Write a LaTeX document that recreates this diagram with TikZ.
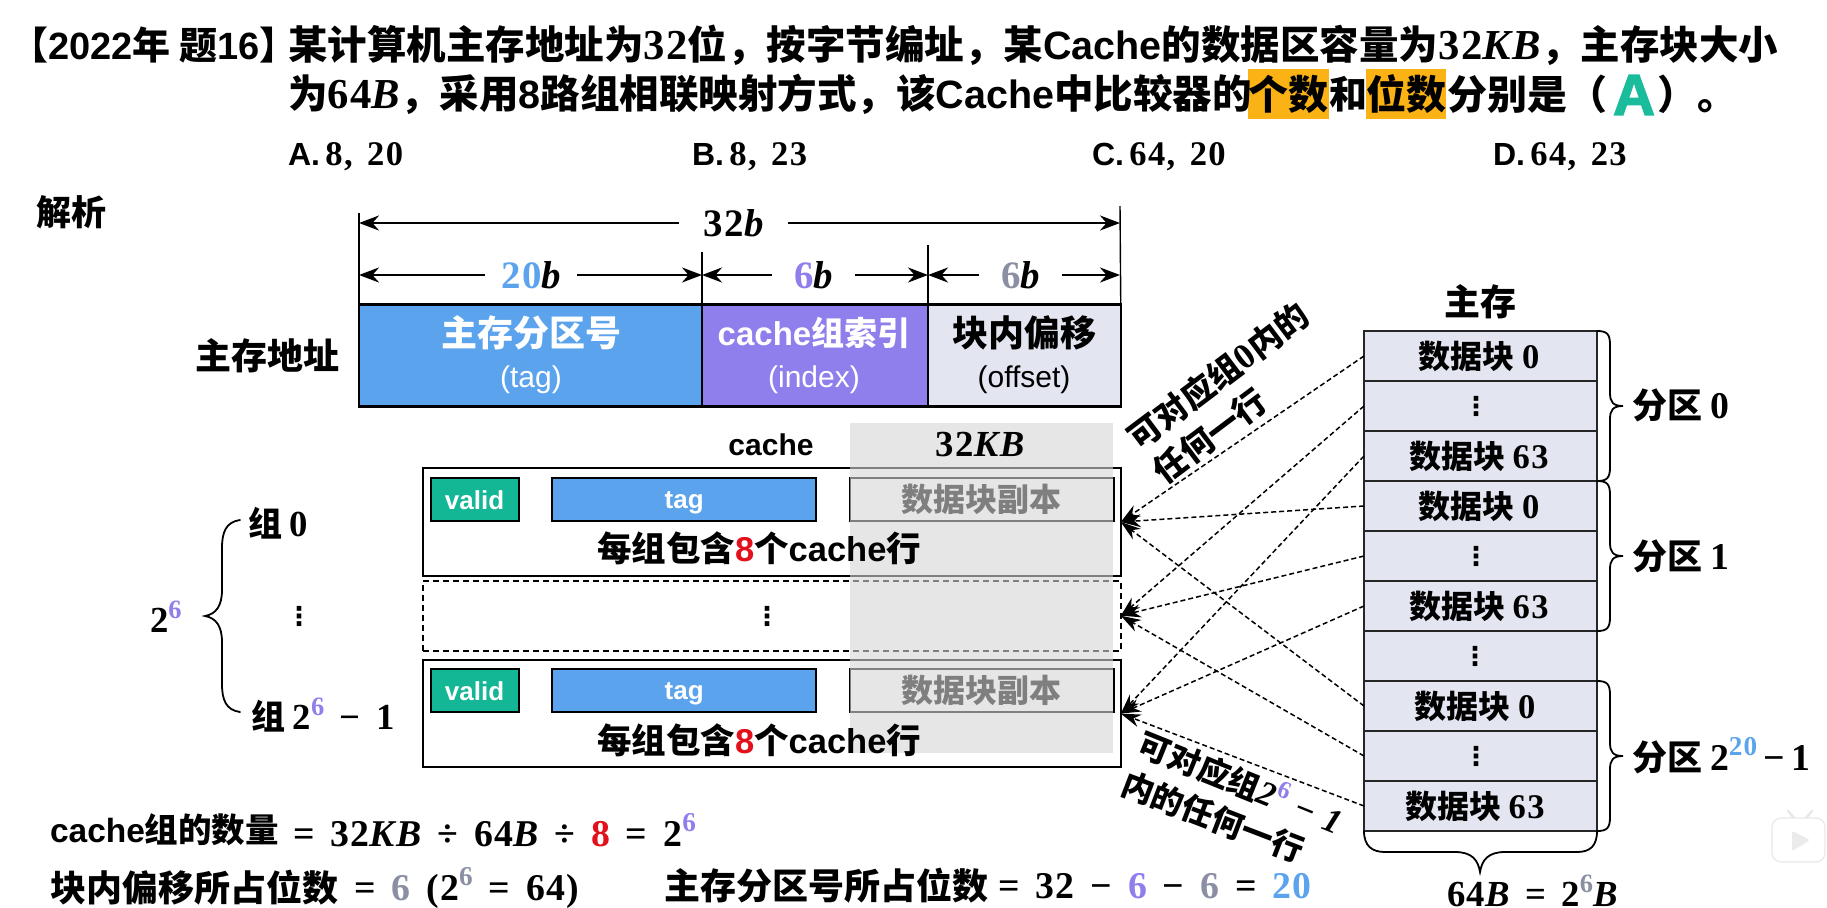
\documentclass[tikz,border=0pt]{standalone}
\usepackage{fontspec}
\usetikzlibrary{arrows.meta,calc}
\setmainfont{Noto Sans CJK SC}
\newfontfamily\arialf{Liberation Sans}
\newfontfamily\ansf{Liberation Sans}[BoldFeatures={FakeBold=2.5}]
\newfontfamily\seriff{Liberation Serif}[Scale=1.08,LetterSpace=4]
\newfontfamily\dejavu{DejaVu Sans}
\newcommand\La[1]{{\arialf\bfseries #1}}
\newcommand\Mn[1]{{\seriff\bfseries #1}}
\newcommand\Mi[1]{{\seriff\bfseries\itshape #1}}
\newcommand\Ms{\hspace{.3em}}
\newcommand\Ml{\hspace{.42em}}
\newcommand\Up[2]{\raisebox{.42em}{\scalebox{.72}{\textcolor{#1}{\seriff\bfseries #2}}}}
\definecolor{cblue}{HTML}{5BA3EC}
\definecolor{cpur}{HTML}{8F7FEC}
\definecolor{clight}{HTML}{E3E5F0}
\definecolor{cgrey}{HTML}{8A8FA3}
\definecolor{cred}{HTML}{E3101C}
\definecolor{cteal}{HTML}{14B795}
\definecolor{cteal2}{HTML}{1ABC9C}
\definecolor{cora}{HTML}{FBB215}
\definecolor{covl}{HTML}{D5D5D5}
\tikzset{
  every node/.style={inner sep=0pt,outer sep=0pt},
  txt/.style={font=\bfseries\fontsize{#1}{#1}\selectfont},
  dim/.style={line width=2.6pt,{Stealth[length=20pt,width=15pt]}-{Stealth[length=20pt,width=15pt]}},
  tick/.style={line width=1.4pt},
  addr/.style={draw=black,line width=2.4pt,minimum height=102pt},
  cacherow/.style={draw=black,line width=2pt,minimum width=698pt},
  inner/.style={draw=black,line width=2pt,minimum height=43pt},
  memrow/.style={draw=black!85,fill=clight,line width=1.8pt,minimum width=233pt,minimum height=50pt},
  link/.style={line width=1.5pt,dash pattern=on 5pt off 3pt,-{Stealth[length=20pt,width=13pt]}},
  brace/.style={line width=1.8pt,line cap=round},
  pics/rbrace/.style={code={
    \draw[brace] (0,0) .. controls (10,0) and (13,3) .. (13,14) -- (13,62)
       .. controls (13,71) and (16,75) .. (26,75)
       .. controls (16,75) and (13,79) .. (13,88) -- (13,136)
       .. controls (13,147) and (10,150) .. (0,150);
  }}
}
\begin{document}
\begin{tikzpicture}[x=1pt,y=-1pt]
\useasboundingbox (0,0) rectangle (1827,907);
% question
\fill[cora] (1248,69) rectangle (1329,119);
\fill[cora] (1366,69) rectangle (1446,119);
\node[txt=38,anchor=west] (qh) at (10,45) {【\La{2022}年 题\La{16}】};
\node[txt=39.5,anchor=west] (q1) at (288,45) {某计算机主存地址为\Mn{32}位，按字节编址，某\La{Cache}的数据区容量为\Mn{32}\Mi{KB}，主存块大小};
\node[txt=39.5,anchor=west] (q2a) at (288,94) {为\Mn{64}\Mi{B}，采用\La{8}路组相联映射方式，该\La{Cache}中比较器的};
\node[txt=40,anchor=west] (q2b) at (1248,94) {个数};
\node[txt=38,anchor=west] (q2c) at (1329,94) {和};
\node[txt=40,anchor=west] (q2d) at (1366,94) {位数};
\node[txt=40,anchor=west] (q2e) at (1447,94) {分别是（};
\node[anchor=center,font=\ansf\bfseries\fontsize{58}{58}\selectfont,text=cteal2] (ans) at (1634,95) {A};
\node[txt=40,anchor=west] (q2f) at (1657,94) {）。};
\node[txt=32,anchor=west] (oa) at (288,157) {\La{A.}\,\Mn{8,\Ml 20}};
\node[txt=32,anchor=west] (ob) at (692,157) {\La{B.}\,\Mn{8,\Ml 23}};
\node[txt=32,anchor=west] (oc) at (1092,157) {\La{C.}\,\Mn{64,\Ml 20}};
\node[txt=32,anchor=west] (od) at (1493,157) {\La{D.}\,\Mn{64,\Ml 23}};
\node[txt=35,anchor=west] (jx) at (36,212) {解析};
% address
\node[addr,fill=cblue,minimum width=343pt] (atag) at (530.5,355.5) {};
\node[addr,fill=cpur,minimum width=226pt] (aidx) at (815,355.5) {};
\node[addr,fill=clight,minimum width=192.5pt] (aoff) at (1024.5,355.5) {};
\node[txt=36,text=white] (t1) at (531,333) {主存分区号};
\node[text=white,font=\arialf\fontsize{30}{30}\selectfont] (t2) at (531,380) {(tag)};
\node[txt=33,text=white] (t3) at (814,333) {\La{cache}组索引};
\node[text=white,font=\arialf\fontsize{30}{30}\selectfont] (t4) at (814,380) {(index)};
\node[txt=36] (t5) at (1024,333) {块内偏移};
\node[font=\arialf\fontsize{30}{30}\selectfont] (t6) at (1024,380) {(offset)};
\node[txt=36] (t7) at (267,356) {主存地址};
% dimension ticks and arrows
\coordinate (d0t) at (359,213); \coordinate (d1t) at (702,252); \coordinate (d2t) at (928,245); \coordinate (d3t) at (1120,206);
\draw[tick] (d0t) -- (atag.north west);
\draw[tick] (d1t) -- (atag.north east);
\draw[tick] (d2t) -- (aidx.north east);
\draw[tick] (d3t) -- (aoff.north east);
\coordinate (a0) at (359,223); \coordinate (a3) at (1120,223);
\coordinate (b0) at (359,275); \coordinate (b1) at (702,275); \coordinate (b2) at (928,275); \coordinate (b3) at (1120,275);
\draw[dim] (a0) -- (a3);
\draw[dim] (b0) -- (b1);
\draw[dim] (b1) -- (b2);
\draw[dim] (b2) -- (b3);
\node[txt=36,fill=white,minimum width=109pt,minimum height=44pt] (l32) at (733.5,223) {\Mn{32}\Mi{b}};
\node[txt=36,fill=white,minimum width=92pt,minimum height=44pt] (l20) at (531,275) {\textcolor{cblue}{\Mn{20}}\Mi{b}};
\node[txt=36,fill=white,minimum width=83pt,minimum height=44pt] (l6a) at (813.5,275) {\textcolor{cpur}{\Mn{6}}\Mi{b}};
\node[txt=36,fill=white,minimum width=83pt,minimum height=44pt] (l6b) at (1020.5,275) {\textcolor{cgrey}{\Mn{6}}\Mi{b}};
% cache
\node[cacherow,minimum height=108pt] (r1) at (771.8,522) {};
\node[cacherow,minimum height=70pt,dash pattern=on 6pt off 4pt] (r2) at (771.8,615.7) {};
\node[cacherow,minimum height=107pt] (r3) at (771.8,713.6) {};
\foreach \n/\y in {1/499.5,3/690.5}{
  \node[inner,fill=cteal,minimum width=88pt] (v\n) at (474.6,\y) {};
  \node[inner,fill=cblue,minimum width=264pt] (g\n) at (684.2,\y) {};
  \node[inner,minimum width=264pt] (d\n) at (981.8,\y) {};
  \node[font=\arialf\bfseries\fontsize{26}{26}\selectfont,text=white] (vt\n) at (474.6,\y+1) {valid};
  \node[font=\arialf\bfseries\fontsize{26}{26}\selectfont,text=white] (gt\n) at (684.2,\y+3) {tag};
  \node[txt=32] (dt\n) at (981.8,\y) {数据块副本};
}
\fill[covl,fill opacity=.6] (850,423) rectangle (1113,753);
\node[font=\arialf\bfseries\fontsize{30}{30}\selectfont] (cl) at (771,445) {cache};
\node[txt=34] (ks) at (980,445) {\Mn{32}\Mi{KB}};
\node[txt=34.5] (e1) at (759,548) {每组包含\textcolor{cred}{\La{8}}个\La{cache}行};
\node[txt=34.5] (e3) at (759,740) {每组包含\textcolor{cred}{\La{8}}个\La{cache}行};
\node[font=\dejavu\bfseries\fontsize{26}{26}\selectfont] (rd) at (767,616) {⋮};
% left brace
\node[txt=34,anchor=west] (z0) at (248,523) {组 \Mn{0}};
\node[font=\dejavu\bfseries\fontsize{26}{26}\selectfont] (zd) at (299,616) {⋮};
\node[txt=34,anchor=west] (z1) at (251,715) {组 \Mn{2}\Up{cpur}{6}\Mn{\Ml−\Ml 1}};
\node[txt=34,anchor=west] (z2) at (150,617) {\Mn{2}\Up{cpur}{6}};
\coordinate (lb1) at (240,520); \coordinate (lb2) at (205,616); \coordinate (lb3) at (240,712);
\draw[brace] (lb1) .. controls (226,522) and (222,532) .. (222,548) -- (222,590)
  .. controls (222,606) and (216,614) .. (lb2)
  .. controls (216,618) and (222,626) .. (222,642) -- (222,684)
  .. controls (222,700) and (226,710) .. (lb3);
% memory
\node[txt=36] (zc) at (1480,302) {主存};
\foreach \i/\y in {1/356,2/406,3/456,4/506,5/556,6/606,7/656,8/706,9/756,10/806}{
  \node[memrow] (m\i) at (1480.5,\y) {};
}
\node[txt=32] (mt1) at (1479,356) {数据块 \Mn{0}};
\node[font=\dejavu\bfseries\fontsize{26}{26}\selectfont] (mt2) at (1476,406) {⋮};
\node[txt=32] (mt3) at (1479,456) {数据块 \Mn{63}};
\node[txt=32] (mt4) at (1479,506) {数据块 \Mn{0}};
\node[font=\dejavu\bfseries\fontsize{26}{26}\selectfont] (mt5) at (1476,556) {⋮};
\node[txt=32] (mt6) at (1479,606) {数据块 \Mn{63}};
\node[font=\dejavu\bfseries\fontsize{26}{26}\selectfont] (mt7) at (1475,656) {⋮};
\node[txt=32] (mt8) at (1475,706) {数据块 \Mn{0}};
\node[font=\dejavu\bfseries\fontsize{26}{26}\selectfont] (mt9) at (1476,756) {⋮};
\node[txt=32] (mt10) at (1475,806) {数据块 \Mn{63}};
\path (m1.north east) pic {rbrace};
\path (m4.north east) pic {rbrace};
\path (m8.north east) pic {rbrace};
\node[txt=35,anchor=west] (p0) at (1632,405) {分区 \Mn{0}};
\node[txt=35,anchor=west] (p1) at (1632,556) {分区 \Mn{1}};
\node[txt=35,anchor=west] (p2) at (1632,756) {分区 \Mn{2}\Up{cblue}{20}\Mn{\,−\,1}};
\coordinate (bb) at (1480,872);
\draw[brace] (m10.south west) .. controls (1364,846) and (1372,852) .. (1385,852) -- (1455,852)
  .. controls (1472,852) and (1478,860) .. (bb)
  .. controls (1482,860) and (1488,852) .. (1505,852) -- (1577,852)
  .. controls (1590,852) and (1597,846) .. (m10.south east);
\node[txt=34,anchor=west] (sz) at (1447,891) {\Mn{64}\Mi{B}\Mn{\Ml=\Ml 2}\Up{cgrey}{6}\Mi{B}};
% dashed links
\foreach \s/\t in {1/r1,2/r2,3/r3,4/r1,5/r2,6/r3,8/r1,9/r2,10/r3}{
  \draw[link] (m\s.west) -- (\t.east);
}
% rotated notes
\node[txt=33,rotate=37] (n1) at (1218,376) {可对应组\Mn{0}内的};
\node[txt=33,rotate=37] (n2) at (1210,436) {任何一行};
\node[txt=32,rotate=-22] (n3) at (1241,782) {可对应组\Mi{2}\Up{cpur}{6}\Ms\Mi{−\Ms 1}};
\node[txt=32,rotate=-21] (n4) at (1213,817) {内的任何一行};
% formulas
\node[txt=33.5,anchor=west] (f1) at (50,830) {\La{cache}组的数量};
\node[txt=35,anchor=west] (f2) at (293,830) {\Mn{=\Ml 32}\Mi{KB}\Mn{\Ml÷\Ml 64}\Mi{B}\Mn{\Ml÷\Ml}\textcolor{cred}{\Mn{8}}\Mn{\Ml=\Ml 2}\Up{cpur}{6}};
\node[txt=36,anchor=west] (f3) at (50,888) {块内偏移所占位数};
\node[txt=35,anchor=west] (f4) at (354,888) {\Mn{=\Ml}\textcolor{cgrey}{\Mn{6}}\Mn{\Ml (2}\Up{cgrey}{6}\Mn{\Ml=\Ml 64)}};
\node[txt=36,anchor=west] (f5) at (664,886) {主存分区号所占位数};
\node[txt=35,anchor=west] (f6) at (998,886) {\Mn{=\Ml 32\Ml−\Ml}\textcolor{cpur}{\Mn{6}}\Mn{\Ml−\Ml}\textcolor{cgrey}{\Mn{6}}\Mn{\Ml=\Ml}\textcolor{cblue}{\Mn{20}}};
% watermark
\draw[black!9,line width=2.5pt,line cap=round] (1788,811) -- (1795,819);
\draw[black!9,line width=2.5pt,line cap=round] (1812,811) -- (1805,819);
\draw[black!9,fill=white,line width=1.2pt,rounded corners=9pt] (1772,818) rectangle (1825,862);
\fill[black!8,rounded corners=1.5pt] (1792,831) -- (1810,840) -- (1792,851) -- cycle;
\end{tikzpicture}
\end{document}
